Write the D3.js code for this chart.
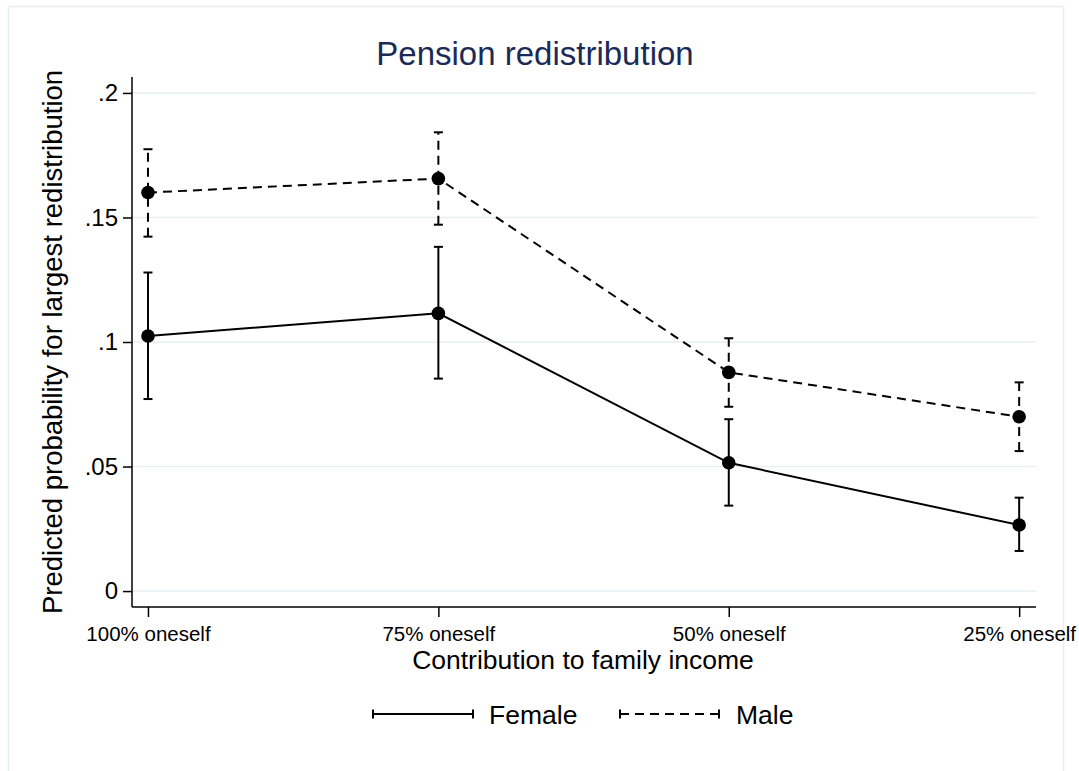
<!DOCTYPE html>
<html><head><meta charset="utf-8">
<script src="https://cdn.jsdelivr.net/npm/d3@7/dist/d3.min.js"></script>
<style>body{margin:0;background:#fff}svg{display:block}text{font-family:"Liberation Sans",Arial,sans-serif}</style>
</head><body>
<script>
const categories = ["100% oneself","75% oneself","50% oneself","25% oneself"];
const femaleEst = [0.1024, 0.1115, 0.0515, 0.0265];
const femaleLo  = [0.0771, 0.0853, 0.0343, 0.0161];
const femaleHi  = [0.1279, 0.1382, 0.0690, 0.0375];
const maleEst = [0.1600, 0.1656, 0.0878, 0.0700];
const maleLo  = [0.1423, 0.1471, 0.0740, 0.0562];
const maleHi  = [0.1774, 0.1842, 0.1015, 0.0838];
const yTicks = [0, 0.05, 0.1, 0.15, 0.2];
const yTickLabels = ["0", ".05", ".1", ".15", ".2"];
const title = "Pension redistribution";
const xTitle = "Contribution to family income";
const yTitle = "Predicted probability for largest redistribution";
const seriesNames = ["Female","Male"];

const W = 1079, H = 771;
const L = 132, R = 1036, T = 77, B = 607;
const svg = d3.select("body").append("svg").attr("width", W).attr("height", H);

svg.append("rect").attr("x", 8.5).attr("y", 6.5).attr("width", 1055).attr("height", 780)
  .attr("fill", "#fff").attr("stroke", "#e6eef0").attr("stroke-width", 1.5);

const x = d3.scaleLinear().domain([0.945, 4.058]).range([L, R]);
const y = d3.scaleLinear().domain([-0.0064, 0.2064]).range([B, T]);

// gridlines
svg.append("g").selectAll("line").data(yTicks).join("line")
  .attr("x1", L).attr("x2", R).attr("y1", d => y(d)).attr("y2", d => y(d))
  .attr("stroke", "#e6eff1").attr("stroke-width", 1.5);

// y axis
const yAxis = d3.axisLeft(y).tickValues(yTicks).tickFormat((d, i) => yTickLabels[i]).tickSize(9).tickPadding(5);
const gy = svg.append("g").attr("transform", `translate(${L},0)`).call(yAxis);
gy.select(".domain").attr("stroke", "#000").attr("stroke-width", 1.5).attr("d", `M0,${T}V${B}`);
gy.selectAll(".tick line").attr("stroke", "#000").attr("stroke-width", 1.5);
gy.selectAll(".tick text").attr("font-size", 24).attr("fill", "#000").attr("font-family", "Liberation Sans, Arial, sans-serif");

// x axis
const xAxis = d3.axisBottom(x).tickValues([1,2,3,4]).tickFormat((d) => categories[d-1]).tickSize(10).tickPadding(9);
const gx = svg.append("g").attr("transform", `translate(0,${B})`).call(xAxis);
gx.select(".domain").attr("stroke", "#000").attr("stroke-width", 1.5).attr("d", `M${L},0H${R}`);
gx.selectAll(".tick line").attr("stroke", "#000").attr("stroke-width", 1.5);
gx.selectAll(".tick text").attr("font-size", 20.5).attr("fill", "#000").attr("font-family", "Liberation Sans, Arial, sans-serif");

// titles
svg.append("text").attr("x", 535).attr("y", 65).attr("text-anchor", "middle")
  .attr("font-size", 33).attr("fill", "#1c2a56").text(title);
svg.append("text").attr("x", 583).attr("y", 669).attr("text-anchor", "middle")
  .attr("font-size", 26.5).attr("fill", "#000").text(xTitle);
svg.append("text").attr("transform", `translate(62,${(T+B)/2}) rotate(-90)`).attr("text-anchor", "middle")
  .attr("font-size", 27.5).attr("fill", "#000").text(yTitle);

const series = [
  {name: seriesNames[0], est: femaleEst, lo: femaleLo, hi: femaleHi, dash: null},
  {name: seriesNames[1], est: maleEst, lo: maleLo, hi: maleHi, dash: "9,6"}
];
const line = d3.line().x((d, i) => x(i+1)).y(d => y(d));
const cap = 4.5;
series.forEach(s => {
  const g = svg.append("g");
  s.est.forEach((v, i) => {
    const cx = x(i+1);
    g.append("line").attr("x1", cx).attr("x2", cx).attr("y1", y(s.lo[i])).attr("y2", y(s.hi[i]))
      .attr("stroke", "#000").attr("stroke-width", 2).attr("stroke-dasharray", s.dash);
    [s.lo[i], s.hi[i]].forEach(e => g.append("line").attr("x1", cx-cap).attr("x2", cx+cap)
      .attr("y1", y(e)).attr("y2", y(e)).attr("stroke", "#000").attr("stroke-width", 2));
  });
  g.append("path").datum(s.est).attr("d", line).attr("fill", "none").attr("stroke", "#000")
    .attr("stroke-width", 2).attr("stroke-dasharray", s.dash);
  g.selectAll("circle").data(s.est).join("circle").attr("cx", (d, i) => x(i+1)).attr("cy", d => y(d))
    .attr("r", 6.8).attr("fill", "#000");
});

// legend
const legY = 714;
const legItems = [{x0: 373, x1: 473, tx: 489, s: series[0]}, {x0: 620, x1: 719, tx: 736, s: series[1]}];
legItems.forEach(it => {
  svg.append("line").attr("x1", it.x0).attr("x2", it.x1).attr("y1", legY).attr("y2", legY)
    .attr("stroke", "#000").attr("stroke-width", 2).attr("stroke-dasharray", it.s.dash);
  [it.x0, it.x1].forEach(px => svg.append("line").attr("x1", px).attr("x2", px)
    .attr("y1", legY-4.5).attr("y2", legY+4.5).attr("stroke", "#000").attr("stroke-width", 2));
  svg.append("text").attr("x", it.tx).attr("y", legY + 10).attr("font-size", 26.5).attr("fill", "#000").text(it.s.name);
});
</script>
</body></html>
